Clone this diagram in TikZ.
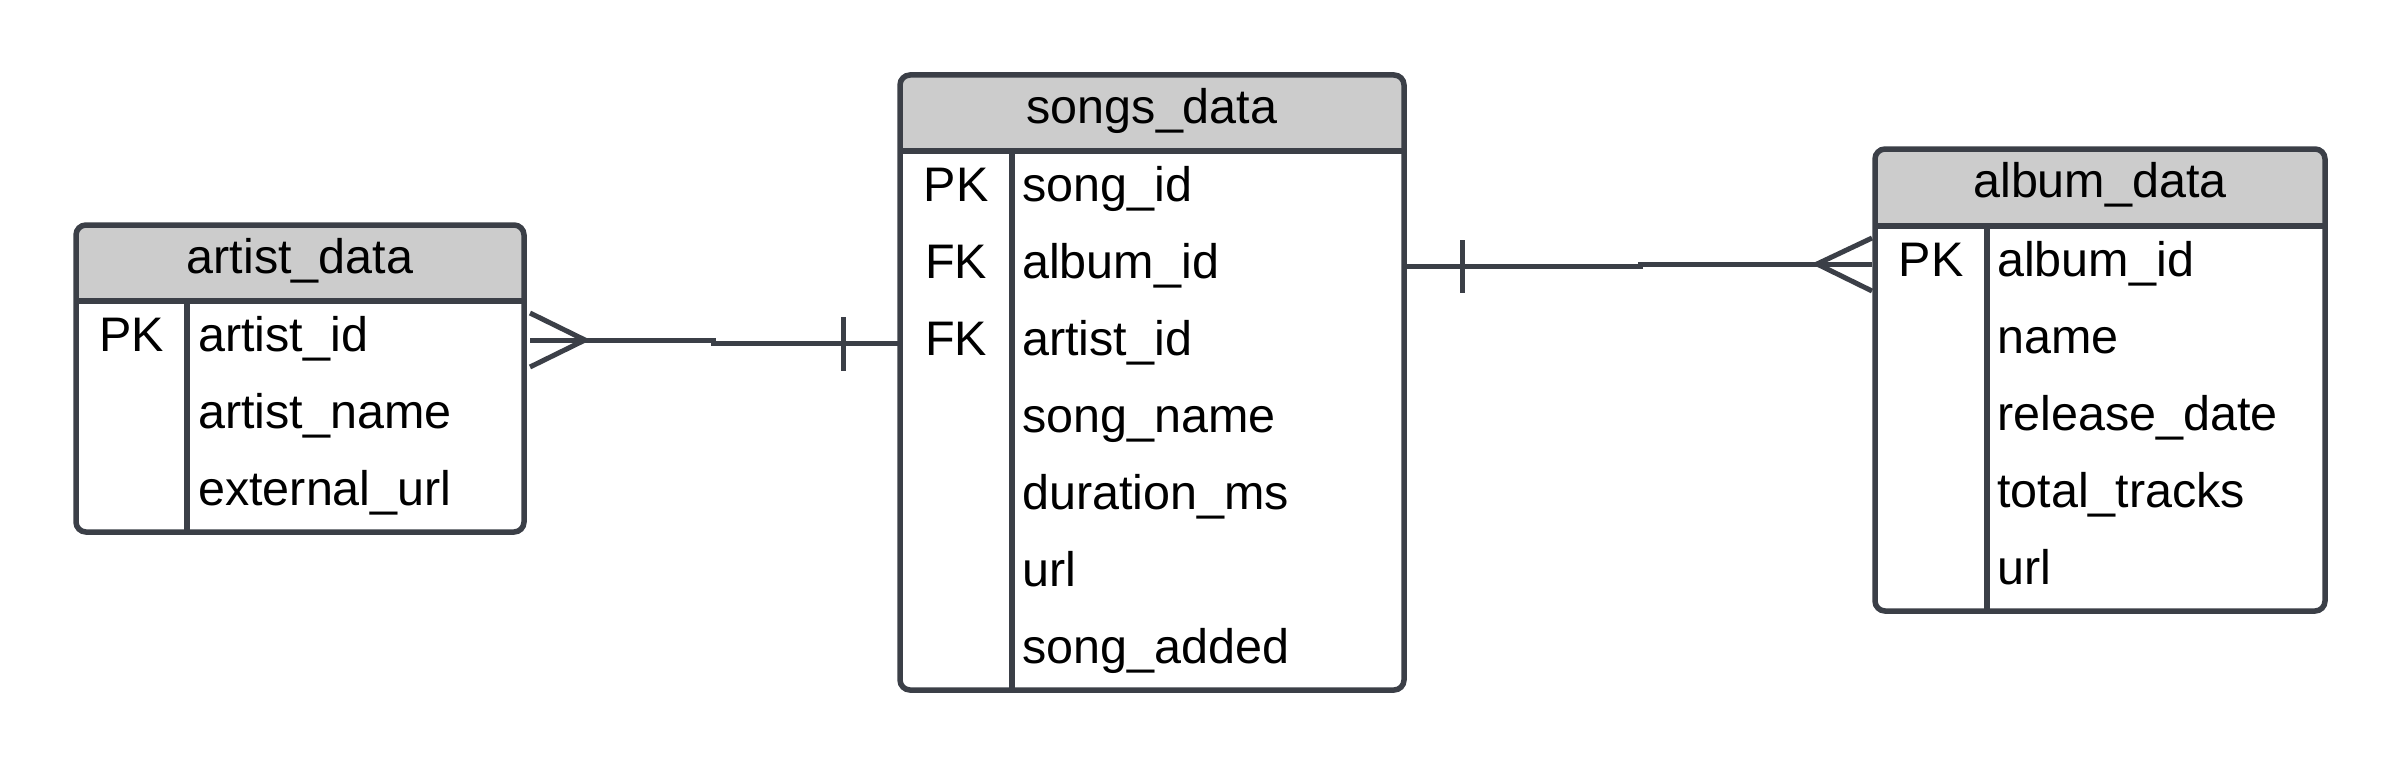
\documentclass[tikz,border=0pt]{standalone}
\usepackage{fontspec}
\setmainfont{Liberation Sans}
\definecolor{ln}{HTML}{3B3F47}
\definecolor{hdr}{HTML}{CCCCCC}
\begin{document}
\begin{tikzpicture}[x=1pt,y=-1pt,
  font=\fontsize{48.5}{58}\selectfont,
  border/.style={draw=ln, line width=5.5pt, rounded corners=10pt},
  sepline/.style={draw=ln, line width=5.5pt},
  rel/.style={draw=ln, line width=5pt},
  fld/.style={anchor=base west, inner sep=0pt},
  keytxt/.style={anchor=base, inner sep=0pt},
  ttl/.style={anchor=base, inner sep=0pt}]
\useasboundingbox[fill=white] (0,0) rectangle (2400,765);

% ---------- artist_data ----------
\fill[white, rounded corners=10pt] (76,225) rectangle (524,532);
\begin{scope}
  \clip[rounded corners=10pt] (76,225) rectangle (524,532);
  \fill[hdr] (76,225) rectangle (524,301);
\end{scope}
\draw[sepline] (76,301) -- (524,301);
\draw[sepline] (187,301) -- (187,532);
\draw[border] (76,225) rectangle (524,532);
\node[ttl] (artistT) at (300,273.5) {artist\_data};
\node[keytxt] (artistK1) at (131.5,351.5) {PK};
\node[fld] (artistF1) at (198,351.5) {artist\_id};
\node[fld] (artistF2) at (198,428.5) {artist\_name};
\node[fld] (artistF3) at (198,505.5) {external\_url};

% ---------- songs_data ----------
\fill[white, rounded corners=10pt] (900,75) rectangle (1404,690);
\begin{scope}
  \clip[rounded corners=10pt] (900,75) rectangle (1404,690);
  \fill[hdr] (900,75) rectangle (1404,151);
\end{scope}
\draw[sepline] (900,151) -- (1404,151);
\draw[sepline] (1012,151) -- (1012,690);
\draw[border] (900,75) rectangle (1404,690);
\node[ttl] (songsT) at (1152,123.5) {songs\_data};
\node[keytxt] (songsK1) at (956,201.5) {PK};
\node[keytxt] (songsK2) at (956,278.5) {FK};
\node[keytxt] (songsK3) at (956,355.5) {FK};
\node[fld] (songsF1) at (1022,201.5) {song\_id};
\node[fld] (songsF2) at (1022,278.5) {album\_id};
\node[fld] (songsF3) at (1022,355.5) {artist\_id};
\node[fld] (songsF4) at (1022,432.5) {song\_name};
\node[fld] (songsF5) at (1022,509.5) {duration\_ms};
\node[fld] (songsF6) at (1022,586.5) {url};
\node[fld] (songsF7) at (1022,663.5) {song\_added};

% ---------- album_data ----------
\fill[white, rounded corners=10pt] (1875,149) rectangle (2325,611);
\begin{scope}
  \clip[rounded corners=10pt] (1875,149) rectangle (2325,611);
  \fill[hdr] (1875,149) rectangle (2325,226);
\end{scope}
\draw[sepline] (1875,226) -- (2325,226);
\draw[sepline] (1987,226) -- (1987,611);
\draw[border] (1875,149) rectangle (2325,611);
\node[ttl] (albumT) at (2100,197.5) {album\_data};
\node[keytxt] (albumK1) at (1931,276.5) {PK};
\node[fld] (albumF1) at (1997,276.5) {album\_id};
\node[fld] (albumF2) at (1997,353.5) {name};
\node[fld] (albumF3) at (1997,430.5) {release\_date};
\node[fld] (albumF4) at (1997,507.5) {total\_tracks};
\node[fld] (albumF5) at (1997,584.5) {url};

% ---------- artist -- songs connector ----------
\coordinate (aCrowTop) at (530,313);
\coordinate (aCrowMid) at (530,340);
\coordinate (aCrowBot) at (530,367);
\coordinate (aCrowTip) at (585,340);
\coordinate (aStepA) at (713,340);
\coordinate (aStepB) at (713,343);
\coordinate (aSongs) at (900,343);
\coordinate (aBarTop) at (843,317);
\coordinate (aBarBot) at (843,371);
\draw[rel] (aCrowTop) -- (aCrowTip) -- (aCrowBot);
\draw[rel] (aCrowMid) -- (aStepA) -- (aStepB) -- (aSongs);
\draw[rel] (aBarTop) -- (aBarBot);

% ---------- songs -- album connector ----------
\coordinate (bSongs) at (1406,266.5);
\coordinate (bStepA) at (1640,266.5);
\coordinate (bStepB) at (1640,264);
\coordinate (bCrowMid) at (1872,264);
\coordinate (bCrowTip) at (1817,264);
\coordinate (bCrowTop) at (1872,238);
\coordinate (bCrowBot) at (1872,291);
\coordinate (bBarTop) at (1462,240);
\coordinate (bBarBot) at (1462,293);
\draw[rel] (bSongs) -- (bStepA) -- (bStepB) -- (bCrowMid);
\draw[rel] (bCrowTop) -- (bCrowTip) -- (bCrowBot);
\draw[rel] (bBarTop) -- (bBarBot);
\end{tikzpicture}
\end{document}
